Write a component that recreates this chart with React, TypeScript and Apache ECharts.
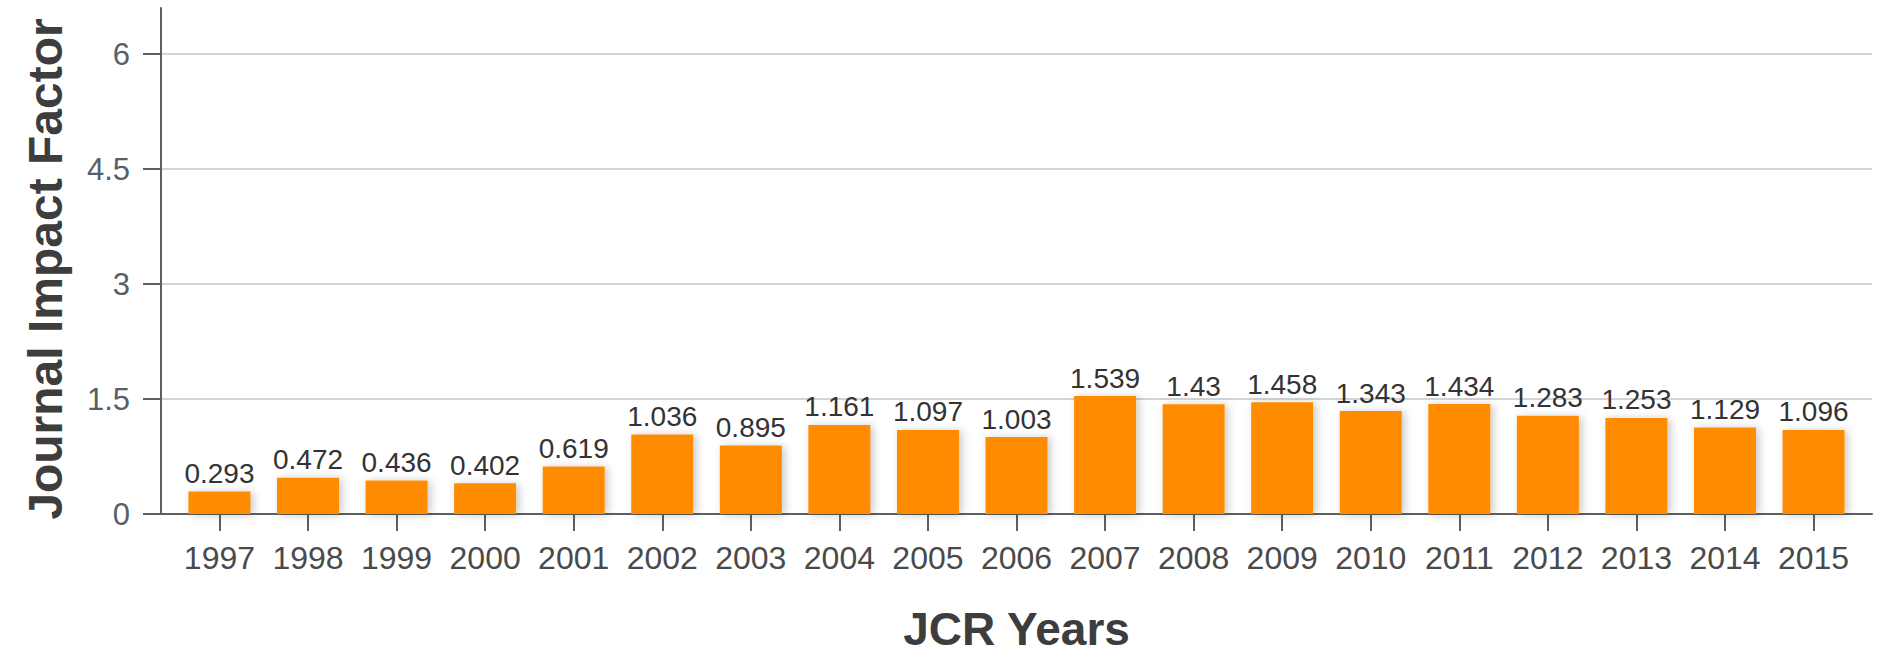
import React, { useEffect, useRef } from "react";
import * as echarts from "echarts";

const years = ["1997","1998","1999","2000","2001","2002","2003","2004","2005","2006","2007","2008","2009","2010","2011","2012","2013","2014","2015"];
const impactFactors = [0.293,0.472,0.436,0.402,0.619,1.036,0.895,1.161,1.097,1.003,1.539,1.43,1.458,1.343,1.434,1.283,1.253,1.129,1.096];
const yTicks = [0, 1.5, 3, 4.5, 6];
const yTickLabels = ["0", "1.5", "3", "4.5", "6"];
const xTitle = "JCR Years";
const yTitle = "Journal Impact Factor";

const FONT = "'Liberation Sans', Arial, Helvetica, sans-serif";

export default function App() {
  const ref = useRef<HTMLDivElement>(null);
  useEffect(() => {
    if (!ref.current) return;
    const chart = echarts.init(ref.current, undefined, { renderer: "svg" });
    const idx = years.map((_, i) => i);
    chart.setOption({
      animation: false,
      backgroundColor: "#ffffff",
      grid: { left: 161, right: 6, top: 8, bottom: 142, containLabel: false, outerBoundsMode: "none" },
      xAxis: {
        type: "value",
        min: -0.66,
        max: years.length - 1 + 0.66,
        name: xTitle,
        nameLocation: "middle",
        nameGap: 96,
        nameTextStyle: {
          fontFamily: FONT,
          fontSize: 46,
          lineHeight: 38,
          fontWeight: "bold",
          color: "#3d3d3d",
        },
        axisLine: { show: true, onZero: false, lineStyle: { color: "#5f5f5f", width: 2 } },
        axisTick: { show: true, length: 17, customValues: idx, lineStyle: { color: "#5f5f5f", width: 2 } },
        axisLabel: {
          customValues: idx,
          margin: 28,
          fontFamily: FONT,
          fontSize: 32,
          color: "#4a4a4a",
          formatter: (v: number) => years[Math.round(v)] ?? "",
        },
        splitLine: { show: false },
      },
      yAxis: {
        type: "value",
        min: 0,
        max: 6.6,
        name: yTitle,
        nameLocation: "middle",
        nameGap: 92,
        nameTextStyle: {
          fontFamily: FONT,
          fontSize: 48,
          fontWeight: "bold",
          color: "#3d3d3d",
          padding: [0, 16, 0, 0],
        },
        axisLine: { show: true, onZero: false, lineStyle: { color: "#5f5f5f", width: 2 } },
        axisTick: { show: true, length: 18, customValues: yTicks, lineStyle: { color: "#5f5f5f", width: 2 } },
        axisLabel: {
          customValues: yTicks,
          margin: 31,
          fontFamily: FONT,
          fontSize: 31,
          color: "#55606a",
          formatter: (v: number) => {
            const k = yTicks.indexOf(v);
            return k >= 0 ? yTickLabels[k] : "";
          },
        },
        splitLine: { show: true, lineStyle: { color: "#d4d4d4", width: 2 } },
      },
      series: [
        {
          type: "bar",
          data: impactFactors.map((v, i) => [i, v]),
          barWidth: 62,
          itemStyle: {
            color: "#ff8c00",
            shadowBlur: 8,
            shadowOffsetX: 3,
            shadowOffsetY: 1,
            shadowColor: "rgba(0,0,0,0.22)",
          },
          label: {
            show: true,
            position: "top",
            distance: 4,
            fontFamily: FONT,
            fontSize: 28,
            color: "#333333",
            formatter: (p: any) => String(p.value[1]),
          },
        },
      ],
    });
    return () => chart.dispose();
  }, []);
  return (
    <div
      ref={ref}
      style={{ position: "fixed", left: 0, top: 0, width: 1878, height: 656, background: "#fff" }}
    />
  );
}
